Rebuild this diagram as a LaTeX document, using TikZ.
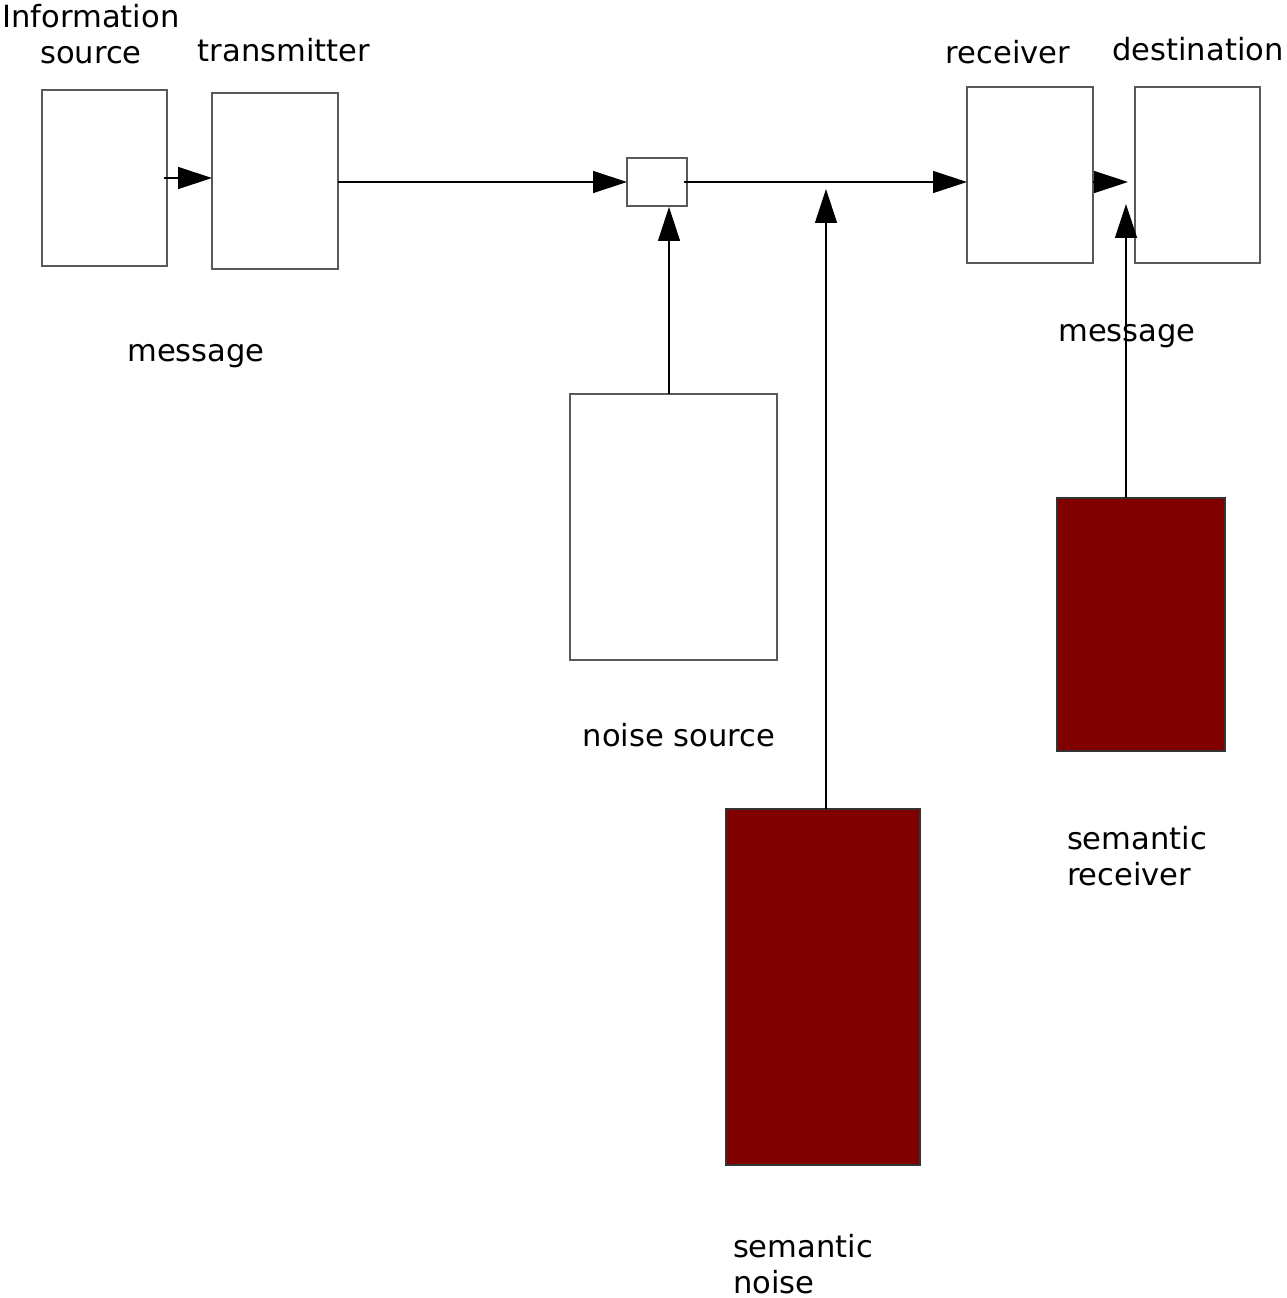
\documentclass[tikz,border=0pt]{standalone}
\usepackage{fontspec}
\setmainfont{DejaVu Sans}
\usetikzlibrary{arrows.meta}
\definecolor{semred}{RGB}{128,0,0}
\begin{document}
\begin{tikzpicture}[x=0.02cm,y=-0.02cm,
		block/.style={draw=black!65, line width=0.8pt, fill=white, inner sep=0pt, outer sep=0pt},
		semblock/.style={block, draw=black!80, fill=semred},
		flow/.style={line width=0.7pt, -{Triangle[length=0.68cm, width=0.44cm]}},
		lbl/.style={inner sep=0pt, outer sep=0pt}]
		\tikzstyle{every node}=[font=\fontsize{17.4pt}{20.4pt}\selectfont]
		
		\useasboundingbox (0,0) rectangle (1287,1298);
		
		\node[block, minimum width=2.5cm, minimum height=3.52cm] (src) at (104.5,178) {};
		\node[block, minimum width=2.52cm, minimum height=3.52cm] (tx) at (275,181) {};
		\node[block, minimum width=1.2cm, minimum height=0.96cm] (mix) at (657,182) {};
		\node[block, minimum width=2.52cm, minimum height=3.52cm] (rx) at (1030,175) {};
		\node[block, minimum width=2.5cm, minimum height=3.52cm] (dst) at (1197.5,175) {};
		\node[block, minimum width=4.14cm, minimum height=5.32cm] (noise) at (673.5,527) {};
		\node[semblock, minimum width=3.88cm, minimum height=7.12cm] (semnoise) at (823,987) {};
		\node[semblock, minimum width=3.36cm, minimum height=5.06cm] (semrx) at (1141,624.5) {};
		
		\coordinate (mixin) at (669,207);
		\coordinate (semtip) at (826,189);
		\coordinate (dstin) at (1128,182);
		\coordinate (dstup) at (1126,204);
		
		\draw[flow] ([xshift=-0.06cm]src.east) -- (src.east -| tx.west);
		\draw[flow] (tx.east |- mix.west) -- (mix.west);
		\draw[flow] ([xshift=-0.06cm]mix.east) -- (mix.east -| rx.west);
		\draw[flow] (noise.north -| mixin) -- (mixin);
		\draw[flow] (semnoise.north -| semtip) -- (semtip);
		\draw[flow] (rx.east |- dstin) -- (dstin);
		\draw[flow] (semrx.north -| dstup) -- (dstup);
		
		\node[lbl, anchor=base, align=center] (srclbl) at (91,63) {Information\\source};
		\node[lbl, anchor=base] (txlbl) at (284,61) {transmitter};
		\node[lbl, anchor=base] (rxlbl) at (1008,63) {receiver};
		\node[lbl, anchor=base] (dstlbl) at (1198,60) {destination};
		\node[lbl, anchor=base] (msgleft) at (196,361) {message};
		\node[lbl, anchor=base] (msgright) at (1127,341) {message};
		\node[lbl, anchor=base] (noiselbl) at (679,746) {noise source};
		\node[lbl, anchor=base west, align=left] (semrxlbl) at (1067,885) {semantic\\receiver};
		\node[lbl, anchor=base west, align=left] (semnoiselbl) at (733,1293) {semantic\\noise};
		
	\end{tikzpicture}
\end{document}
